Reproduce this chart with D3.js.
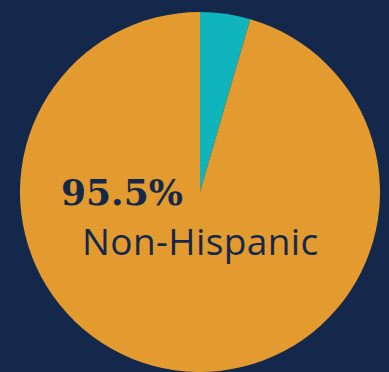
<!DOCTYPE html>
<html><head><meta charset="utf-8">
<script src="https://cdn.jsdelivr.net/npm/d3@7"></script>
<style>html,body{margin:0;padding:0;background:#14284b;}svg{display:block;}</style>
</head><body>
<svg id="chart" width="389" height="372"></svg>
<script>
const categories = ["Hispanic", "Non-Hispanic"];
const values = [4.5, 95.5];
const colors = ["#10b4bd", "#e39b30"];
const labelValue = "95.5%";
const labelName = "Non-Hispanic";

const svg = d3.select("#chart");
svg.append("rect").attr("width", 389).attr("height", 372).attr("fill", "#14284b");
const g = svg.append("g").attr("transform", "translate(200,192)");
const pie = d3.pie().sort(null).value(d => d)(values);
const arc = d3.arc().innerRadius(0).outerRadius(180);
g.selectAll("path").data(pie).join("path")
  .attr("d", arc).attr("fill", (d, i) => colors[i]);

svg.append("text").attr("x", 61).attr("y", 205)
  .attr("font-family", "DejaVu Serif").attr("font-weight", "bold")
  .attr("font-size", 36).attr("fill", "#14284b").text(labelValue);
svg.append("text").attr("x", 82).attr("y", 255)
  .attr("font-family", "Open Sans").attr("font-size", 37)
  .attr("letter-spacing", 0.4)
  .attr("fill", "#14284b").text(labelName);
</script>
</body></html>
